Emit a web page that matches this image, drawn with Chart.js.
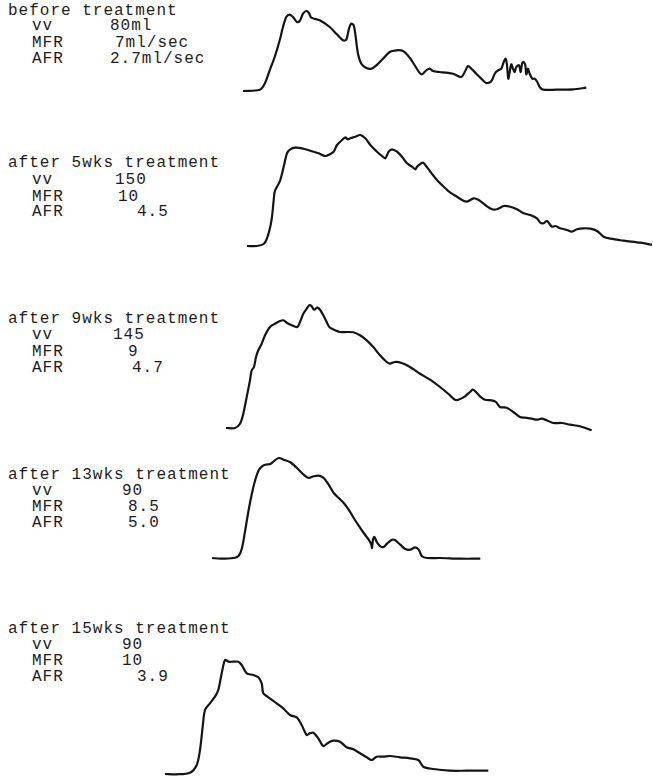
<!DOCTYPE html>
<html>
<head>
<meta charset="utf-8">
<script src="https://cdn.jsdelivr.net/npm/chart.js@4"></script>
<style>
  html, body { margin: 0; padding: 0; background: #fff; }
  #page { position: relative; width: 653px; height: 777px; overflow: hidden; background: #fff; }
  .lbl {
    position: absolute;
    font-family: "Liberation Mono", "DejaVu Sans Mono", monospace;
    font-size: 16px;
    line-height: 16px;
    letter-spacing: 1px;
    color: #1c1c1c;
    white-space: pre;
  }
  .trace { position: absolute; }
</style>
</head>
<body>
<div id="page"></div>
<script>
// flow traces (time and flow in trace units, flow 0 = baseline)
const beforeTime = [0, 16.7, 21.7, 26.7, 31.7, 36.7, 40, 43.3, 46.7, 50, 54, 56.7, 60, 63.3, 66, 68.3, 76.7, 86.7, 93.3, 100, 103.3, 106, 108.3, 110.7, 112.7, 115, 118.3, 123.3, 128.3, 133.3, 140, 146.7, 153.3, 160, 166.7, 171.7, 178.3, 183.3, 186.7, 190, 196.7, 203.3, 210, 218.3, 221.7, 225, 228.3, 233.3, 238.3, 243.3, 248.3, 251.7, 255, 258.3, 260.7, 262.7, 264, 265.3, 266.7, 268.3, 270, 271.7, 273.3, 276, 277.7, 279, 280.7, 282.3, 283.3, 285, 286.7, 289.3, 291.7, 294.3, 296.7, 300, 313.3, 330, 343.3];
const beforeFlow = [0, 1.3, 7.3, 20.7, 34, 50.7, 64, 74, 76.3, 74, 69, 70, 77.3, 80, 78, 73.3, 70.7, 64, 57.3, 50.7, 51.3, 62.3, 67.3, 65.7, 54, 37.3, 27.3, 23, 22.3, 25.7, 32.3, 39, 40.7, 40, 33.3, 25.7, 16.7, 20.7, 22.3, 20, 19, 18.3, 17.3, 14, 19, 25, 22.3, 17.3, 12.3, 8, 9.7, 17.3, 20.7, 22.3, 29, 32.3, 25.7, 12.3, 19, 26.7, 22.3, 19, 24, 25.7, 19, 27.3, 29, 25.7, 16.7, 22.3, 17.3, 12.3, 12.3, 9, 4, 1.3, 1.3, 1.7, 3.3];

const wk5Time = [0, 10, 16.7, 20, 23.3, 25, 26.7, 27.7, 30, 33.3, 36.7, 40, 43.3, 48.3, 55, 63.3, 71.7, 78.3, 83.3, 86.7, 90, 95, 98.3, 100.7, 103.3, 108.3, 113.3, 118.3, 123.3, 130, 135, 138.3, 141.7, 145, 150, 155, 160, 165, 168.3, 170, 173.3, 176, 178.3, 183.3, 190, 196.7, 203.3, 210, 215, 220, 226.7, 231.7, 238.3, 245, 250, 256.7, 263.3, 270, 276.7, 283.3, 290, 293.3, 296.7, 300, 305, 308.3, 313.3, 320, 325, 330, 336.7, 343.3, 350, 356.7, 363.3, 376.7, 393.3, 405];
const wk5Flow = [0, 0, 2, 7.7, 19.3, 29.3, 46, 54.3, 59.3, 66, 79.3, 92.7, 96.7, 98.3, 97.7, 95.3, 92.7, 90, 92, 94.3, 101, 106, 108.7, 106.7, 107.7, 109.3, 111, 107.7, 101, 94.3, 90, 87.7, 94.3, 96.7, 94.3, 89.3, 82.7, 79.3, 76.7, 79.3, 82, 83.3, 81, 74.3, 66, 59.3, 53.3, 49.3, 46, 44.3, 47.7, 46, 41, 36.7, 36.7, 40, 39.3, 36.7, 32.7, 31, 27.7, 23.3, 22.7, 25, 19.3, 20, 17.7, 16, 14.3, 16.7, 17.7, 17.3, 15, 9.3, 7.3, 5.3, 3.3, 1.3];

const wk9Time = [0, 9, 14, 17.3, 20.7, 24, 25.7, 28, 30, 32.3, 35.7, 39, 44, 49, 54, 57.3, 60.7, 65.7, 71.3, 74, 77.3, 80.7, 83.3, 85.7, 88, 91.3, 94, 97.3, 100.7, 103.3, 109, 114, 120.7, 127.3, 134, 140.7, 147.3, 154, 160.7, 164, 169, 175.7, 184, 194, 204, 214, 224, 229, 232.3, 239, 244, 246.7, 249, 254, 259, 265.7, 270, 274, 280.7, 287.3, 294, 299, 305.7, 310.7, 315.7, 320.7, 327.3, 335.7, 344, 354, 365.7];
const wk9Flow = [0, 0, 4.3, 14.3, 31, 47.7, 57.7, 61, 71, 77.7, 84.3, 92.7, 101, 104.3, 107, 107.7, 105.3, 102.7, 101, 106, 114.3, 119.3, 122.7, 121.7, 118.3, 120.3, 118.3, 112.7, 106, 101, 97.7, 96, 96, 95.7, 92.7, 87.7, 81, 72.7, 66, 64.3, 66, 65, 61, 54.3, 48.3, 41, 32.7, 28.3, 28.3, 31.7, 36, 38.3, 37, 31.7, 28.3, 27.7, 26, 21, 20.3, 16, 11, 10.3, 9.3, 8.3, 9.3, 7.7, 5, 5, 3.3, 1.7, -2.3];

const wk13Time = [0, 8.3, 21.7, 26.7, 30, 33.3, 36.7, 40, 43.3, 46.7, 50, 53.3, 58.3, 61.7, 66.7, 71.7, 78.3, 85, 91.7, 96.7, 101.7, 106.7, 111.7, 116.7, 121.7, 126.7, 131.7, 136.7, 141.7, 146.7, 151.7, 156.7, 159.3, 160, 161, 162.3, 165, 168.3, 171.7, 175, 180, 183.3, 188.3, 193.3, 198.3, 203.3, 206.7, 210, 215, 228.3, 248.3, 268.3];
const wk13Flow = [0, -0.7, 0, 2.3, 10, 28.3, 48.3, 65, 78.3, 87.7, 91.7, 93.3, 94, 96.7, 100, 98.3, 95.7, 90, 83.3, 80, 81.7, 82.3, 80, 73.3, 65, 60, 55, 48.3, 40, 32.3, 25, 18.3, 13.3, 10, 18.3, 21, 15.7, 11.7, 11, 14.3, 18.3, 17.7, 13.3, 9, 8.3, 10.7, 8.3, 1.7, 0, 0, -0.7, -0.7];

const wk15Time = [0, 11.7, 25, 31.7, 35, 37.7, 40, 45, 50, 53.3, 56.7, 60, 63.3, 68.3, 73.3, 76.7, 81.7, 88.3, 93.3, 96.7, 98.3, 103.3, 111.7, 118.3, 125, 131.7, 136.7, 141.7, 145, 148.3, 153.3, 158.3, 163.3, 168.3, 175, 181.7, 188.3, 195, 201.7, 206.7, 211.7, 218.3, 225, 235, 245, 253.3, 258.3, 268.3, 285, 301.7, 323.3];
const wk15Flow = [0, -0.3, 1.3, 9, 24, 47.3, 64, 70.7, 77.3, 84, 100.7, 114, 112.3, 112.3, 112.3, 109, 100.7, 99, 96.7, 90.7, 80.7, 76.7, 70.7, 65.7, 59, 56.7, 49, 39, 40.7, 41.3, 35.7, 28, 31.3, 33.3, 32.3, 26.7, 24.7, 20.7, 16.7, 14, 17.3, 17.3, 18, 16.7, 15.7, 14, 7.3, 5, 3.3, 3.3, 3.3];

// label text per recording
const titles = ['before treatment', 'after 5wks treatment', 'after 9wks treatment', 'after 13wks treatment', 'after 15wks treatment'];
const vvValues = ['80ml', '150', '145', '90', '90'];
const mfrValues = ['7ml/sec', '10', '9', '8.5', '10'];
const afrValues = ['2.7ml/sec', '4.5', '4.7', '5.0', '3.9'];

// layout: where each trace starts (x) and its baseline (y) on the page
const traceOrigins = [[243.3, 90.7], [246.7, 246], [226, 427.7], [211.7, 558.3], [165, 774]];
// label baselines: title, vv, MFR, AFR
const labelRows = [[15.5, 30.5, 47.5, 63], [167.5, 184, 201, 216.5], [323, 339.5, 356, 372], [479, 495, 511, 527], [633, 649.5, 665.5, 681]];
const valueX = [[110, 115, 110], [115, 118, 137], [113, 128, 132], [122, 128, 128], [122, 122, 137]];

const page = document.getElementById('page');

function addLabel(text, x, baseline) {
    const el = document.createElement('div');
    el.className = 'lbl';
    el.textContent = text;
    el.style.left = x + 'px';
    el.style.top = (baseline - 12.3) + 'px';
    page.appendChild(el);
}

titles.forEach((t, i) => {
    const rows = labelRows[i];
    addLabel(t, 8, rows[0]);
    addLabel('vv', 32, rows[1]);
    addLabel('MFR', 32, rows[2]);
    addLabel('AFR', 32, rows[3]);
    addLabel(vvValues[i], valueX[i][0], rows[1]);
    addLabel(mfrValues[i], valueX[i][1], rows[2]);
    addLabel(afrValues[i], valueX[i][2], rows[3]);
});

const traces = [
    [beforeTime, beforeFlow],
    [wk5Time, wk5Flow],
    [wk9Time, wk9Flow],
    [wk13Time, wk13Flow],
    [wk15Time, wk15Flow]
];

const pad = 6;

traces.forEach(([time, flow], i) => {
    const [x0, base] = traceOrigins[i];
    const maxT = Math.max(...time);
    const maxF = Math.max(...flow);
    const w = Math.round(maxT + pad * 2);
    const h = Math.round(maxF + pad * 2);

    const canvas = document.createElement('canvas');
    canvas.className = 'trace';
    canvas.width = w;
    canvas.height = h;
    canvas.style.left = (x0 - pad) + 'px';
    canvas.style.top = (base - (h - pad)) + 'px';
    page.appendChild(canvas);

    new Chart(canvas.getContext('2d'), {
        type: 'line',
        data: {
            datasets: [{
                data: time.map((t, k) => ({ x: t, y: flow[k] })),
                borderColor: '#141414',
                borderWidth: 2.2,
                pointRadius: 0,
                tension: 0.3,
                fill: false
            }]
        },
        options: {
            responsive: false,
            animation: false,
            devicePixelRatio: 1,
            layout: { padding: 0 },
            scales: {
                x: { type: 'linear', display: false, min: -pad, max: w - pad },
                y: { display: false, min: -pad, max: h - pad }
            },
            plugins: {
                legend: { display: false },
                tooltip: { enabled: false }
            }
        }
    });
});
</script>
</body>
</html>
